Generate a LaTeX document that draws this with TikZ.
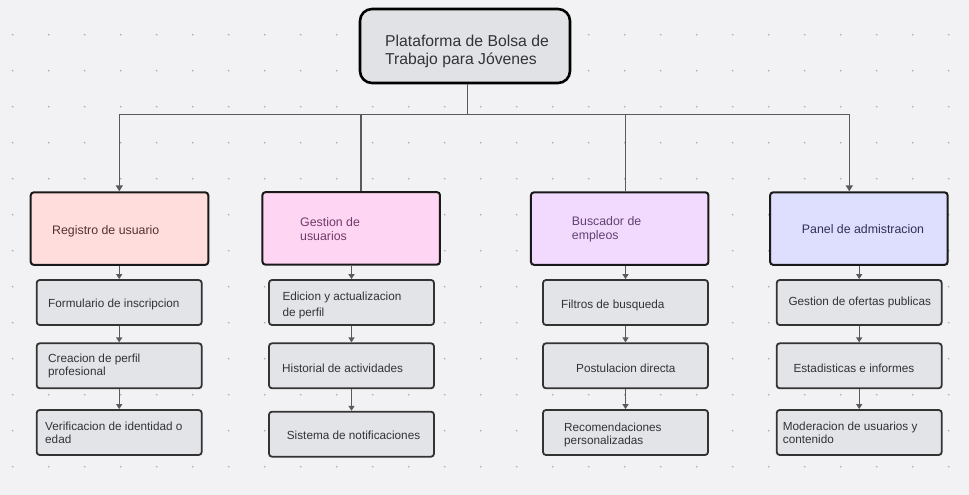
\documentclass[tikz,border=0pt]{standalone}
\usepackage{fontspec}
\setmainfont{Liberation Sans}
\usetikzlibrary{arrows.meta}
\definecolor{bg}{HTML}{F2F2F4}
\definecolor{dotc}{HTML}{A9A9AD}
\definecolor{rootfill}{HTML}{E1E2E6}
\definecolor{subfill}{HTML}{E3E4E8}
\definecolor{fillA}{HTML}{FFDDDD}
\definecolor{fillB}{HTML}{FFD5F4}
\definecolor{fillC}{HTML}{F2DAFF}
\definecolor{fillD}{HTML}{DEDEFF}
\definecolor{txtA}{HTML}{553030}
\definecolor{txtB}{HTML}{6E3A68}
\definecolor{txtC}{HTML}{624072}
\definecolor{txtD}{HTML}{303056}
\definecolor{txt}{HTML}{333337}
\definecolor{linec}{HTML}{5A5A5E}
\tikzset{
  rootbox/.style={draw=black, line width=2.6bp, fill=rootfill, rounded corners=12bp,
    minimum width=210bp, minimum height=74bp, inner sep=0pt},
  catbox/.style={draw=black!90, line width=2bp, rounded corners=3bp,
    minimum width=177.5bp, minimum height=72.5bp, inner sep=0pt},
  subbox/.style={draw=black!80, line width=1.8bp, fill=subfill, rounded corners=3bp,
    minimum width=165bp, minimum height=45bp, inner sep=0pt},
  rtxt/.style={anchor=west, inner sep=0pt, align=left, text=txt, font=\fontsize{15.8}{18}\selectfont},
  ctxt/.style={anchor=west, inner sep=0pt, align=left, font=\fontsize{12.4}{14}\selectfont},
  stxt/.style={anchor=west, inner sep=0pt, align=left, text=txt, font=\fontsize{11.8}{13}\selectfont},
  bus/.style={draw=linec, line width=1.4bp},
  busarrow/.style={draw=linec, line width=1.4bp, -{Triangle[length=6bp,width=7bp]}},
  subarrow/.style={draw=linec, line width=1.3bp, -{Triangle[length=5bp,width=6bp]}},
}
\begin{document}
\begin{tikzpicture}[x=1bp,y=-1bp]
\fill[bg] (0,0) rectangle (969,495);
\useasboundingbox (0,0) rectangle (969,495);
% dot grid
\foreach \i in {0,...,26}{
  \foreach \j in {1,...,13}{
    \fill[dotc] (12.7+36*\i, -1.3+36*\j) circle (0.9bp);
  }
}
% root
\node[rootbox] (root) at (465,46) {};
\node[rtxt] (roott) at (385,51) {Plataforma de Bolsa de\\Trabajo para Jóvenes};
% categories
\node[catbox, fill=fillA] (c1) at (119.5,228.6) {};
\node[catbox, fill=fillB] (c2) at (351.2,228.4) {};
\node[catbox, fill=fillC] (c3) at (619.7,228.6) {};
\node[catbox, fill=fillD] (c4) at (858.9,228.6) {};
\node[ctxt, text=txtA] (c1t) at (52,231.7) {Registro de usuario};
\node[ctxt, text=txtB] (c2t) at (300,228.7) {Gestion de\\usuarios};
\node[ctxt, text=txtC] (c3t) at (571.7,229) {Buscador de\\empleos};
\node[ctxt, text=txtD] (c4t) at (801.7,229) {Panel de admistracion};
% sub boxes column 1
\node[subbox] (s11) at (119.2,302.5) {};
\node[subbox] (s12) at (119.2,365.8) {};
\node[subbox] (s13) at (119.2,432.5) {};
\node[stxt] (s11t) at (48,304) {Formulario de inscripcion};
\node[stxt] (s12t) at (48,366.3) {Creacion de perfil\\profesional};
\node[stxt] (s13t) at (45,433) {Verificacion de identidad o\\edad};
% column 2
\node[subbox] (s21) at (351.5,302.5) {};
\node[subbox] (s22) at (351.5,365.8) {};
\node[subbox] (s23) at (351.5,434.2) {};
\node[stxt, font=\fontsize{11.8}{16}\selectfont] (s21t) at (282.3,305.3) {Edicion y actualizacion\\de perfil};
\node[stxt] (s22t) at (282,368.3) {Historial de actividades};
\node[stxt] (s23t) at (286.7,435) {Sistema de notificaciones};
% column 3
\node[subbox] (s31) at (625.5,302.5) {};
\node[subbox] (s32) at (625.5,365.8) {};
\node[subbox] (s33) at (625.5,432.5) {};
\node[stxt] (s31t) at (561,305) {Filtros de busqueda};
\node[stxt] (s32t) at (576,368.3) {Postulacion directa};
\node[stxt] (s33t) at (564,435) {Recomendaciones\\personalizadas};
% column 4
\node[subbox] (s41) at (859.2,302.5) {};
\node[subbox] (s42) at (859.2,365.8) {};
\node[subbox] (s43) at (859.2,432.5) {};
\node[stxt] (s41t) at (788.3,302.7) {Gestion de ofertas publicas};
\node[stxt] (s42t) at (793.3,368.3) {Estadisticas e informes};
\node[stxt] (s43t) at (782.7,433) {Moderacion de usuarios y\\contenido};
% bus
\coordinate (bj) at (467.7,114.5);
\coordinate (b1) at (119.3,114.5);
\coordinate (b2) at (361,114.5);
\coordinate (b3) at (625.7,114.5);
\coordinate (b4) at (849.3,114.5);
\draw[bus] (root.south -| bj) -- (bj);
\draw[bus] (b1) -- (b4);
\draw[busarrow] (b1) -- (b1 |- c1.north);
\draw[bus] (b2) -- (b2 |- c2.north);
\draw[bus] (b3) -- (b3 |- c3.north);
\draw[busarrow] (b4) -- (b4 |- c4.north);
% sub arrows
\foreach \c in {1,2,3,4}{
  \draw[subarrow] (s\c1.north |- c\c.south) -- (s\c1.north);
  \draw[subarrow] (s\c1.south) -- (s\c2.north);
  \draw[subarrow] (s\c2.south) -- (s\c3.north);
}
\end{tikzpicture}
\end{document}
